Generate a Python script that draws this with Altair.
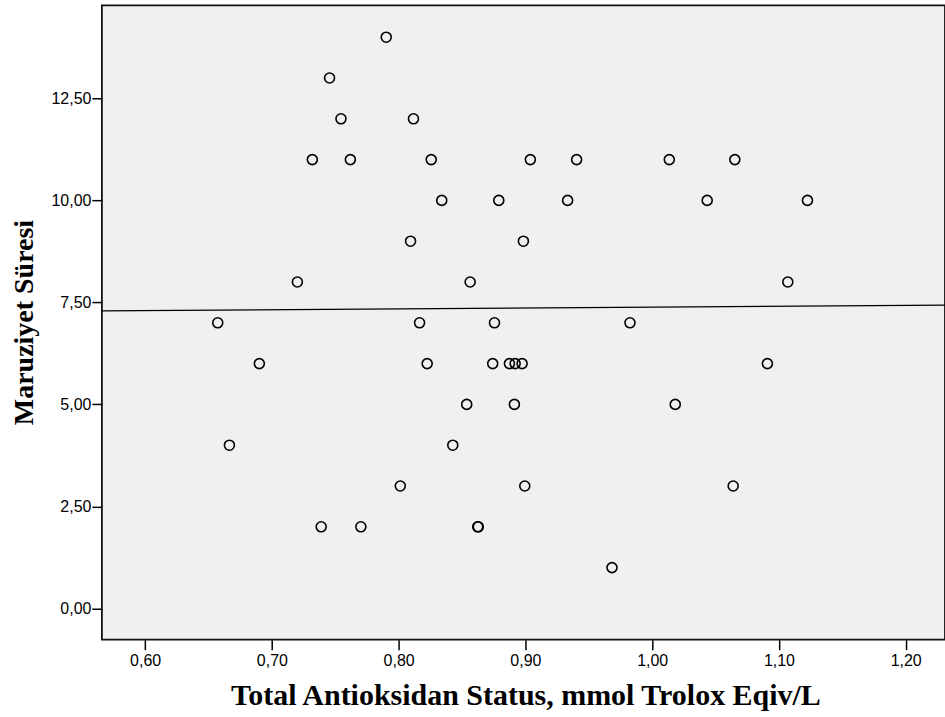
import altair as alt
import pandas as pd

# Total Antioxidant Status (x) and exposure duration (y)
tas = [0.7902, 0.7455, 0.7545, 0.8117,
       0.7319, 0.7619, 0.8257, 0.9039, 0.9404, 1.0135, 1.0652,
       0.8340, 0.8790, 0.9333, 1.0434, 1.1225,
       0.8094, 0.8984,
       0.7201, 0.8564, 1.1070,
       0.6573, 0.8165, 0.8756, 0.9825,
       0.6901, 0.8225, 0.8742, 0.8874, 0.8919, 0.8974, 1.0909,
       0.8537, 0.8913, 1.0182,
       0.6665, 0.8427,
       0.8013, 0.8995, 1.0639,
       0.7389, 0.7702, 0.8624, 0.8628,
       0.9683]
sure = [14, 13, 12, 12,
        11, 11, 11, 11, 11, 11, 11,
        10, 10, 10, 10, 10,
        9, 9,
        8, 8, 8,
        7, 7, 7, 7,
        6, 6, 6, 6, 6, 6, 6,
        5, 5, 5,
        4, 4,
        3, 3, 3,
        2, 2, 2, 2,
        1]

x_ticks = [0.6, 0.7, 0.8, 0.9, 1.0, 1.1, 1.2]
y_ticks = [0.0, 2.5, 5.0, 7.5, 10.0, 12.5]
x_domain = [0.5659, 1.2310]
y_domain = [-0.767, 14.78]

df = pd.DataFrame({"tas": tas, "sure": sure})

comma_expr = "replace(format(datum.value, '.2f'), '.', ',')"

x_enc = alt.X(
    "tas:Q",
    scale=alt.Scale(domain=x_domain, nice=False, zero=False),
    axis=alt.Axis(
        values=x_ticks,
        labelExpr=comma_expr,
        title="Total Antioksidan Status, mmol Trolox Eqiv/L",
        grid=False,
        domain=False,
        tickSize=10,
        tickWidth=1.5,
        tickColor="#000",
        labelFont="Liberation Sans",
        labelFontSize=16,
        labelColor="#000",
        labelPadding=3,
        titleFont="Liberation Serif",
        titleFontWeight="bold",
        titleFontSize=30,
        titleColor="#000",
        titleX=424,
        titleY=65,
        titleBaseline="alphabetic",
        titleAlign="center",
    ),
)
y_enc = alt.Y(
    "sure:Q",
    scale=alt.Scale(domain=y_domain, nice=False, zero=False),
    axis=alt.Axis(
        values=y_ticks,
        labelExpr=comma_expr,
        title="Maruziyet Süresi",
        grid=False,
        domain=False,
        tickSize=10,
        tickWidth=1.5,
        tickColor="#000",
        labelFont="Liberation Sans",
        labelFontSize=16,
        labelColor="#000",
        labelPadding=1,
        titleFont="Liberation Serif",
        titleFontWeight="bold",
        titleFontSize=28,
        titleColor="#000",
        titleAngle=-90,
        titleX=-69,
        titleY=317,
        titleBaseline="alphabetic",
        titleAlign="center",
    ),
)

points = alt.Chart(df).mark_point(
    filled=False, color="#000", size=100, strokeWidth=1.6, opacity=1
).encode(x=x_enc, y=y_enc)

line = alt.Chart(df).transform_regression(
    "tas", "sure", extent=x_domain
).mark_line(color="#000", strokeWidth=1.3, clip=True).encode(
    x=alt.X("tas:Q"), y=alt.Y("sure:Q")
)

chart = alt.layer(points, line).properties(
    width=844,
    height=635,
    autosize=alt.AutoSizeParams(type="none"),
    padding={"left": 102, "top": 5, "right": 0, "bottom": 77},
    background="#ffffff",
).configure_view(
    fill="#F0F0F0", stroke="#111", strokeWidth=1.8
)

chart.save("out.html", embed_options={"renderer": "svg", "actions": False})
